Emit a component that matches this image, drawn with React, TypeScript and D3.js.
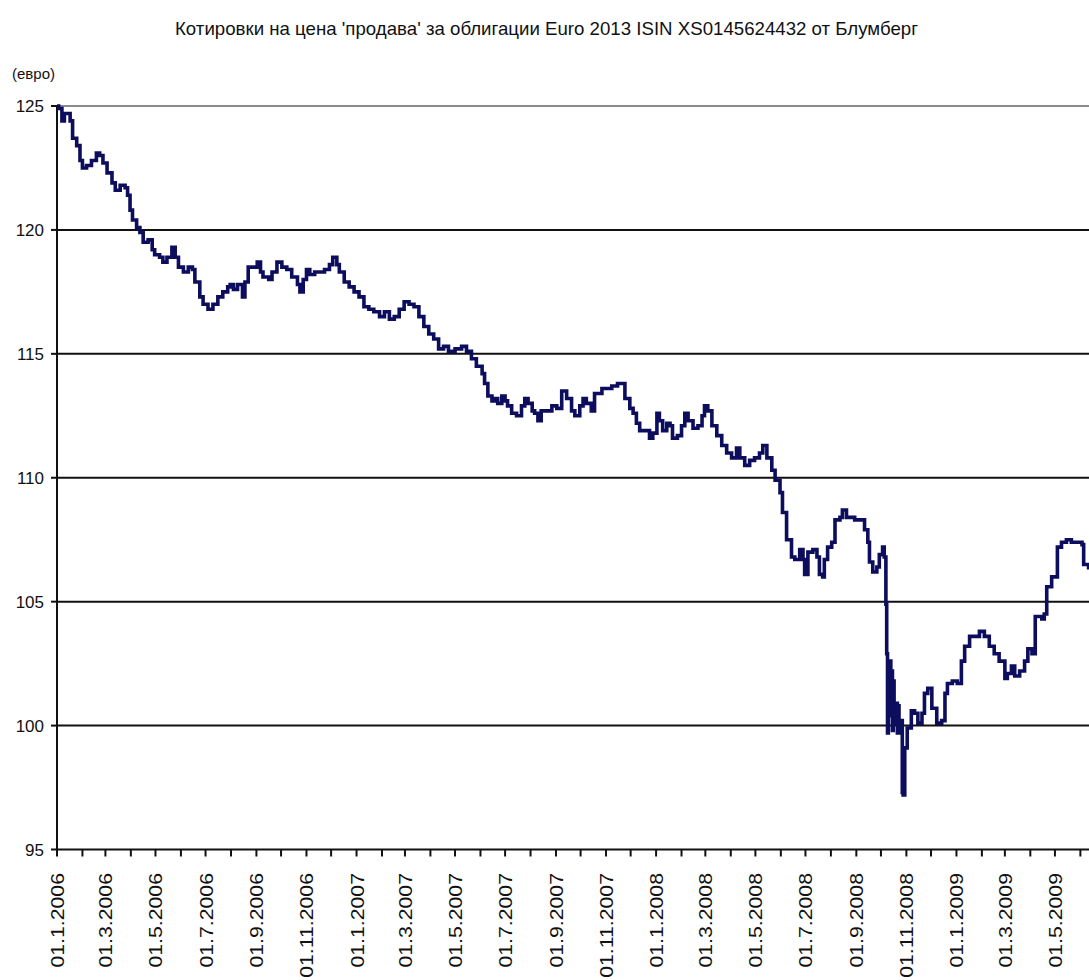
import React, { useEffect, useRef } from "react";
import * as d3 from "d3";

const title = "Котировки на цена 'продава' за облигации Euro 2013 ISIN XS0145624432 от Блумберг";
const unitLabel = "(евро)";
const yTicks = [95, 100, 105, 110, 115, 120, 125];

const dates = [
  "2006-01-01","2006-01-03","2006-01-07","2006-01-10","2006-01-17","2006-01-20","2006-01-25","2006-01-29",
  "2006-02-01","2006-02-06","2006-02-12","2006-02-18","2006-02-22","2006-02-26","2006-03-03","2006-03-09",
  "2006-03-13","2006-03-19","2006-03-25","2006-03-28","2006-03-31","2006-04-03","2006-04-08","2006-04-12",
  "2006-04-16","2006-04-22","2006-04-27","2006-04-30","2006-05-06","2006-05-10","2006-05-15","2006-05-21",
  "2006-05-25","2006-05-29","2006-06-04","2006-06-10","2006-06-15","2006-06-18","2006-06-24","2006-06-28",
  "2006-07-04","2006-07-10","2006-07-16","2006-07-22","2006-07-28","2006-07-31","2006-08-04","2006-08-09",
  "2006-08-15","2006-08-18","2006-08-22","2006-08-28","2006-09-02","2006-09-06","2006-09-09","2006-09-16",
  "2006-09-20","2006-09-26","2006-10-02","2006-10-08","2006-10-14","2006-10-21","2006-10-24","2006-10-28",
  "2006-11-01","2006-11-05","2006-11-11","2006-11-17","2006-11-23","2006-11-29","2006-12-03","2006-12-08",
  "2006-12-11","2006-12-17","2006-12-23","2006-12-29","2007-01-04","2007-01-10","2007-01-16","2007-01-22",
  "2007-01-29","2007-02-04","2007-02-10","2007-02-16","2007-02-22","2007-02-28","2007-03-06","2007-03-12",
  "2007-03-18","2007-03-24","2007-03-30","2007-04-05","2007-04-11","2007-04-17","2007-04-23","2007-05-01",
  "2007-05-09","2007-05-15","2007-05-21","2007-05-27","2007-06-03","2007-06-06","2007-06-10","2007-06-15",
  "2007-06-18","2007-06-22","2007-06-27","2007-07-01","2007-07-04","2007-07-09","2007-07-15","2007-07-21",
  "2007-07-25","2007-07-29","2007-08-03","2007-08-06","2007-08-10","2007-08-14","2007-08-21","2007-08-27",
  "2007-09-02","2007-09-08","2007-09-14","2007-09-20","2007-09-24","2007-09-30","2007-10-04","2007-10-08",
  "2007-10-14","2007-10-18","2007-10-27","2007-11-02","2007-11-08","2007-11-15","2007-11-18","2007-11-24",
  "2007-11-30","2007-12-04","2007-12-08","2007-12-12","2007-12-18","2007-12-24","2007-12-28","2008-01-02",
  "2008-01-05","2008-01-09","2008-01-14","2008-01-18","2008-01-21","2008-01-27","2008-02-01","2008-02-05",
  "2008-02-09","2008-02-15","2008-02-21","2008-02-26","2008-02-29","2008-03-04","2008-03-09","2008-03-15",
  "2008-03-21","2008-03-27","2008-04-02","2008-04-08","2008-04-12","2008-04-18","2008-04-24","2008-04-30",
  "2008-05-06","2008-05-10","2008-05-15","2008-05-21","2008-05-25","2008-05-31","2008-06-03","2008-06-08",
  "2008-06-14","2008-06-18","2008-06-24","2008-06-28","2008-06-30","2008-07-04","2008-07-10","2008-07-15",
  "2008-07-18","2008-07-22","2008-07-24","2008-07-28","2008-08-02","2008-08-06","2008-08-12","2008-08-15",
  "2008-08-20","2008-08-24","2008-08-30","2008-09-05","2008-09-11","2008-09-15","2008-09-17","2008-09-21",
  "2008-09-26","2008-09-29","2008-10-03","2008-10-05","2008-10-07","2008-10-08","2008-10-09","2008-10-10",
  "2008-10-13","2008-10-14","2008-10-15","2008-10-16","2008-10-17","2008-10-20","2008-10-21","2008-10-22",
  "2008-10-23","2008-10-24","2008-10-27","2008-10-28","2008-10-30","2008-11-02","2008-11-07","2008-11-11",
  "2008-11-15","2008-11-20","2008-11-23","2008-11-27","2008-12-02","2008-12-08","2008-12-14","2008-12-18",
  "2008-12-21","2008-12-27","2009-01-02","2009-01-07","2009-01-11","2009-01-17","2009-01-23","2009-01-29",
  "2009-02-04","2009-02-10","2009-02-16","2009-02-22","2009-03-01","2009-03-04","2009-03-09","2009-03-13",
  "2009-03-19","2009-03-25","2009-03-29","2009-04-03","2009-04-07","2009-04-15","2009-04-18","2009-04-21",
  "2009-04-27","2009-05-02","2009-05-04","2009-05-09","2009-05-15","2009-05-21","2009-05-27","2009-06-03",
  "2009-06-05","2009-06-11"
];

const prices = [
  125.0,124.9,124.4,124.7,124.4,123.7,123.4,122.8,
  122.5,122.6,122.8,123.1,123.0,122.7,122.3,121.9,
  121.6,121.8,121.7,121.4,120.8,120.4,120.1,119.9,
  119.5,119.6,119.2,119.0,118.9,118.7,118.9,119.3,
  118.9,118.5,118.3,118.5,118.4,117.9,117.3,117.0,
  116.8,117.0,117.3,117.5,117.7,117.8,117.6,117.8,
  117.3,117.9,118.5,118.5,118.7,118.3,118.1,118.0,
  118.3,118.7,118.5,118.4,118.1,117.8,117.5,118.0,
  118.4,118.2,118.3,118.3,118.4,118.6,118.9,118.6,
  118.3,117.9,117.7,117.5,117.3,116.9,116.8,116.7,
  116.5,116.7,116.4,116.5,116.8,117.1,117.0,116.9,
  116.5,116.1,115.8,115.6,115.2,115.3,115.1,115.2,
  115.3,115.1,114.8,114.5,114.2,113.8,113.3,113.1,
  113.2,113.0,113.3,113.1,112.9,112.6,112.5,112.9,
  113.2,113.0,112.7,112.6,112.3,112.7,112.7,112.9,
  112.8,113.5,113.2,112.7,112.5,112.9,113.2,113.0,
  112.7,113.4,113.6,113.6,113.7,113.8,113.8,113.2,
  112.8,112.6,112.2,111.9,111.9,111.6,111.8,112.6,
  112.3,111.9,112.2,112.1,111.6,111.7,112.1,112.6,
  112.3,112.0,112.1,112.5,112.9,112.7,112.1,111.7,
  111.3,111.0,110.8,111.2,110.8,110.5,110.7,110.8,
  111.0,111.3,110.8,110.3,109.9,109.4,108.6,107.5,
  106.8,106.7,107.1,106.7,106.1,107.0,107.1,106.8,
  106.1,106.0,106.7,107.2,107.4,108.3,108.4,108.7,
  108.4,108.4,108.3,108.3,107.9,107.4,106.6,106.2,
  106.4,106.9,107.2,106.8,104.9,102.9,99.7,102.6,
  100.4,102.2,99.8,101.8,100.1,100.9,99.7,100.8,
  99.7,100.2,97.3,97.2,99.1,99.9,100.6,100.5,
  100.1,100.5,101.3,101.5,100.7,100.1,100.2,101.3,
  101.7,101.8,101.7,102.6,103.2,103.6,103.6,103.8,
  103.6,103.2,102.9,102.6,101.9,102.1,102.4,102.0,
  102.2,102.6,103.1,102.9,104.4,104.3,104.5,105.6,
  106.0,106.0,107.2,107.4,107.5,107.4,107.4,107.3,
  106.5,106.3
];

export default function App() {
  const ref = useRef<SVGSVGElement>(null);

  useEffect(() => {
    const svg = d3.select(ref.current);
    svg.selectAll("*").remove();
    const font = "'Liberation Sans', Arial, sans-serif";
    const parse = d3.timeParse("%Y-%m-%d");
    const data = dates.map((d, i) => ({ date: parse(d) as Date, value: prices[i] }));

    const x = d3.scaleTime()
      .domain([new Date(2006, 0, 1), new Date(2009, 6, 1)])
      .range([57, 1105]);
    const y = d3.scaleLinear().domain([95, 125]).range([849.5, 106]);

    svg.append("rect").attr("x", 0).attr("y", 0).attr("width", 1089).attr("height", 980).attr("fill", "#fff");

    // title
    svg.append("text")
      .attr("x", 175).attr("y", 35)
      .attr("font-family", font).attr("font-size", 19)
      .attr("textLength", 743).attr("lengthAdjust", "spacingAndGlyphs")
      .attr("fill", "#111")
      .text(title);

    svg.append("text")
      .attr("x", 12).attr("y", 79)
      .attr("font-family", font).attr("font-size", 15)
      .attr("fill", "#111")
      .text(unitLabel);

    // gridlines
    const grid = svg.append("g");
    yTicks.filter(v => v > 95).forEach(v => {
      grid.append("line")
        .attr("x1", 57).attr("x2", 1089)
        .attr("y1", y(v)).attr("y2", y(v))
        .attr("stroke", v === 125 ? "#8a8a8a" : "#111")
        .attr("stroke-width", 2);
    });

    // y axis
    svg.append("line").attr("x1", 57).attr("x2", 57).attr("y1", y(125)).attr("y2", y(95))
      .attr("stroke", "#111").attr("stroke-width", 2);
    yTicks.forEach(v => {
      svg.append("line").attr("x1", 51).attr("x2", 57).attr("y1", y(v)).attr("y2", y(v))
        .attr("stroke", "#111").attr("stroke-width", 2);
      svg.append("text")
        .attr("x", 44).attr("y", y(v) + 6)
        .attr("text-anchor", "end")
        .attr("font-family", font).attr("font-size", 17)
        .attr("fill", "#111")
        .text(String(v));
    });

    // x axis
    svg.append("line").attr("x1", 57).attr("x2", 1089).attr("y1", y(95)).attr("y2", y(95))
      .attr("stroke", "#111").attr("stroke-width", 2);
    const months = d3.timeMonth.range(new Date(2006, 0, 1), new Date(2009, 6, 1));
    const fmt = d3.timeFormat("%d.%-m.%Y");
    months.forEach((m, i) => {
      const px = x(m);
      svg.append("line").attr("x1", px).attr("x2", px).attr("y1", y(95)).attr("y2", y(95) + 7)
        .attr("stroke", "#111").attr("stroke-width", 2);
      if (i % 2 === 0) {
        svg.append("text")
          .attr("transform", `translate(${px + 7},${873}) rotate(-90) scale(1.12,1)`)
          .attr("text-anchor", "end")
          .attr("font-family", font).attr("font-size", 19)
          .attr("fill", "#111")
          .text(fmt(m));
      }
    });

    // series line
    const line = d3.line<{ date: Date; value: number }>()
      .x(d => x(d.date))
      .y(d => y(d.value))
      .curve(d3.curveStepAfter);
    svg.append("path")
      .datum(data)
      .attr("d", line)
      .attr("fill", "none")
      .attr("stroke", "#0d0d5e")
      .attr("stroke-width", 3.6)
      .attr("stroke-linejoin", "miter");
  }, []);

  return (
    <svg
      ref={ref}
      width={1089}
      height={980}
      style={{ position: "absolute", left: 0, top: 0, display: "block" }}
    />
  );
}
